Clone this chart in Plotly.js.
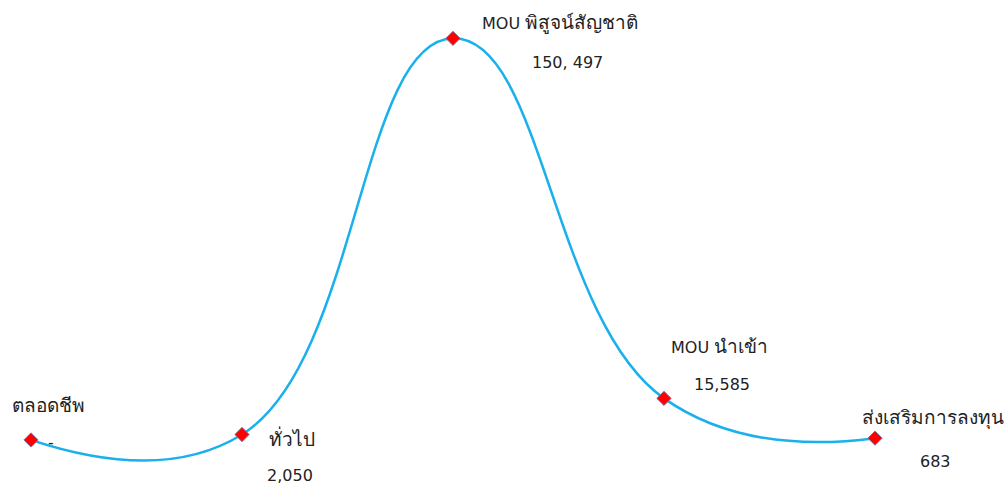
<!DOCTYPE html>
<html>
<head>
<meta charset="utf-8">
<script src="https://cdn.plot.ly/plotly-3.0.1.min.js"></script>
<style>html,body{margin:0;padding:0;background:#fff;}#chart{width:1007px;height:484px;}</style>
</head>
<body>
<div id="chart"></div>
<script>
const categories = ["ตลอดชีพ", "ทั่วไป", "MOU พิสูจน์สัญชาติ", "MOU นำเข้า", "ส่งเสริมการลงทุน"];
const values = [0, 2050, 150497, 15585, 683];
const valueLabels = ["-", "2,050", "150, 497", "15,585", "683"];

// label offsets (pixels) relative to each point: [nameDx, nameDy, valueDx, valueDy]
const labelOffsets = [
  [-21, 35, 15, -3],
  [25, -3, 23, -41],
  [27, 16, 77, -24],
  [5, 52, 28, 14],
  [-15, 20, 43, -23]
];

const xs = categories.map((c, i) => i);
const font = {family: "DejaVu Sans, Noto Sans, sans-serif", size: 16, color: "#222"};
// Thai glyphs fall back to a smaller face; enlarge Thai runs to match reference widths
const thaiWrap = s => s.replace(/[\u0E00-\u0E7F]+/g, m => '<span style="font-size:19px">' + m + '</span>');

const annotations = [];
categories.forEach((c, i) => {
  const o = labelOffsets[i];
  annotations.push({x: xs[i], y: values[i], xref: "x", yref: "y", text: thaiWrap(c), showarrow: false,
    xanchor: "left", yanchor: "middle", xshift: o[0], yshift: o[1], font: font});
  annotations.push({x: xs[i], y: values[i], xref: "x", yref: "y", text: valueLabels[i], showarrow: false,
    xanchor: "left", yanchor: "middle", xshift: o[2], yshift: o[3], font: font});
});

const trace = {
  x: xs, y: values, type: "scatter", mode: "lines+markers",
  line: {shape: "spline", smoothing: 1.3, color: "#1ab0ec", width: 2.5},
  marker: {symbol: "diamond", size: 11, color: "#ff0000", line: {color: "#7a7aa0", width: 1}},
  cliponaxis: false, hoverinfo: "none"
};

const layout = {
  width: 1007, height: 484,
  margin: {l: 31, r: 132, t: 13, b: 4},
  paper_bgcolor: "#fff", plot_bgcolor: "#fff",
  showlegend: false,
  xaxis: {range: [0, 4], visible: false, showgrid: false, zeroline: false},
  yaxis: {range: [-15000, 160000], visible: false, showgrid: false, zeroline: false},
  annotations: annotations
};

Plotly.newPlot("chart", [trace], layout, {displayModeBar: false, staticPlot: true});
</script>
</body>
</html>
